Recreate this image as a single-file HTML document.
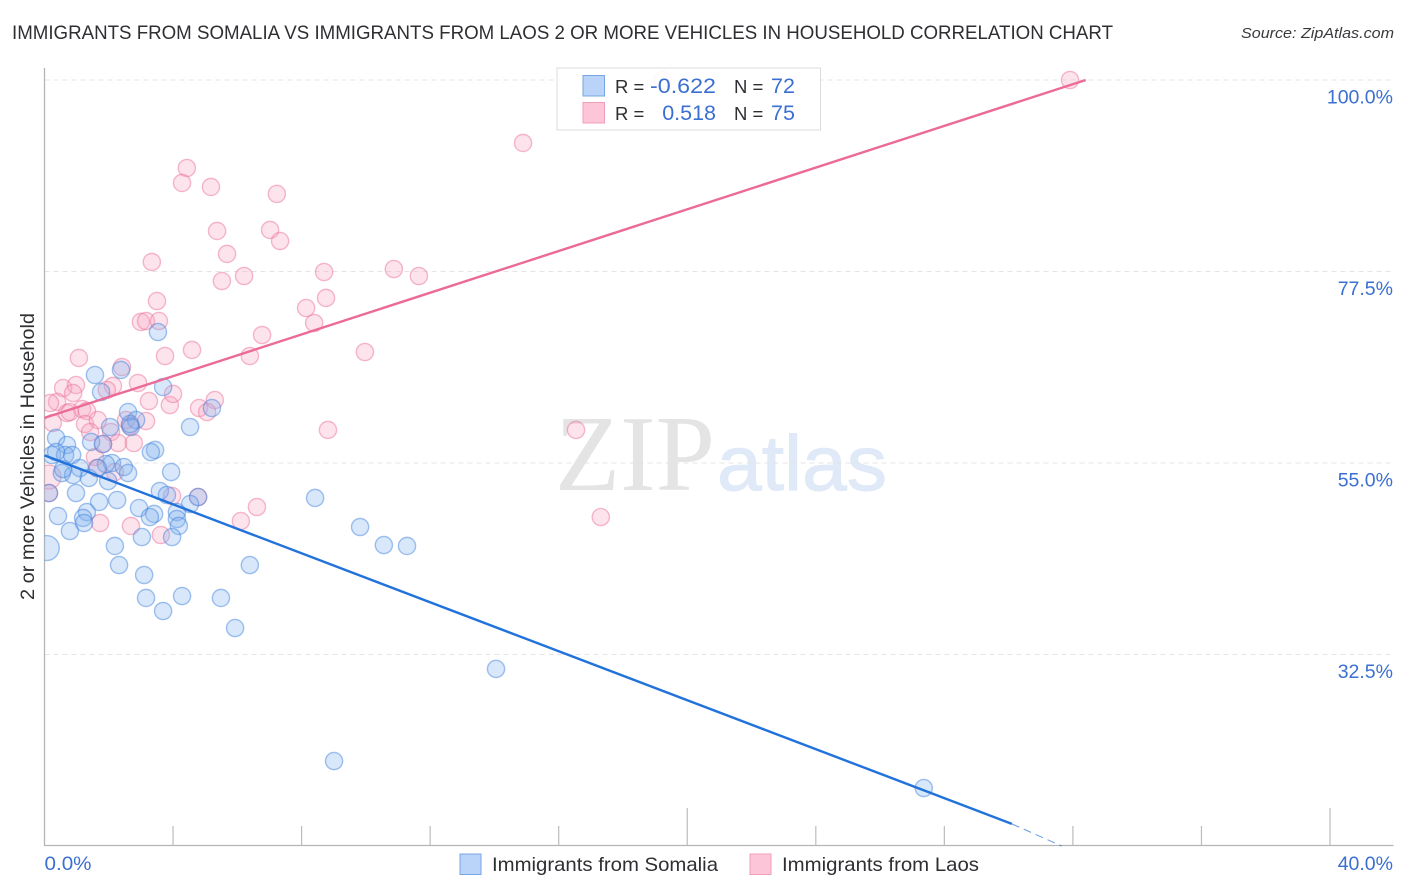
<!DOCTYPE html>
<html lang="en">
<head>
<meta charset="utf-8">
<title>Immigrants from Somalia vs Immigrants from Laos correlation chart</title>
<style>
html,body{margin:0;padding:0;background:#fff;}
svg{display:block;font-family:"Liberation Sans",sans-serif;}
</style>
</head>
<body>
<svg id="chart" xmlns="http://www.w3.org/2000/svg" width="1406" height="892" viewBox="0 0 1406 892">
  <defs><clipPath id="plot-clip"><rect x="44.5" y="60" width="1350" height="785.5"/></clipPath></defs>
  <text x="12" y="39" font-size="19.5" fill="#2f2f33" textLength="1101" lengthAdjust="spacingAndGlyphs">IMMIGRANTS FROM SOMALIA VS IMMIGRANTS FROM LAOS 2 OR MORE VEHICLES IN HOUSEHOLD CORRELATION CHART</text>
  <text x="1241" y="38" font-size="15" font-style="italic" fill="#3a3a3e" textLength="153" lengthAdjust="spacingAndGlyphs">Source: ZipAtlas.com</text>
  <g>
    <text x="555" y="490" font-family="'Liberation Serif',serif" font-size="108" fill="#e4e4e4" textLength="160" lengthAdjust="spacingAndGlyphs">ZIP</text>
    <text x="717" y="490" font-size="78" fill="#dfe9f7" stroke="#dfe9f7" stroke-width="1" textLength="170" lengthAdjust="spacingAndGlyphs">atlas</text>
  </g>
  <g id="grid"></g>
  <g id="axes"></g>
  <g id="marks" clip-path="url(#plot-clip)"></g>
  <g id="lines"></g>
  <g id="ylabels"></g>
  <text transform="translate(34 456.5) rotate(-90)" font-size="19.5" fill="#2f2f33" text-anchor="middle" textLength="287" lengthAdjust="spacingAndGlyphs">2 or more Vehicles in Household</text>
  <text x="44.5" y="870" font-size="19.5" fill="#3b6fd1" textLength="47" lengthAdjust="spacingAndGlyphs">0.0%</text>
  <text x="1393" y="870" font-size="19.5" fill="#3b6fd1" text-anchor="end">40.0%</text>

  <g>
    <rect x="557" y="68" width="263.5" height="62" fill="#fff" fill-opacity="0.9" stroke="#dcdcdc" stroke-width="1"/>
    <rect x="583" y="75.5" width="21.5" height="20.5" fill="#b9d4f8" stroke="#78a5e3" stroke-width="1"/>
    <rect x="583" y="102.5" width="21.5" height="20.5" fill="#fcc6d8" stroke="#f09db8" stroke-width="1"/>
    <g font-size="20">
      <text x="615" y="93" fill="#2f2f33" font-size="18.5">R =</text>
      <text x="650" y="93" fill="#3b6fd1" font-size="21.5" textLength="66" lengthAdjust="spacingAndGlyphs">-0.622</text>
      <text x="734" y="93" fill="#2f2f33" font-size="18.5">N =</text>
      <text x="771" y="93" fill="#3b6fd1" font-size="21.5">72</text>
      <text x="615" y="120" fill="#2f2f33" font-size="18.5">R =</text>
      <text x="716" y="120" fill="#3b6fd1" text-anchor="end" font-size="21.5">0.518</text>
      <text x="734" y="120" fill="#2f2f33" font-size="18.5">N =</text>
      <text x="771" y="120" fill="#3b6fd1" font-size="21.5">75</text>
    </g>
  </g>

  <g>
    <rect x="460" y="854" width="21" height="20.5" fill="#b9d4f8" stroke="#78a5e3" stroke-width="1"/>
    <text x="492" y="871" font-size="19.5" fill="#2f2f33" textLength="226" lengthAdjust="spacingAndGlyphs">Immigrants from Somalia</text>
    <rect x="750" y="854" width="21" height="20.5" fill="#fcc6d8" stroke="#f09db8" stroke-width="1"/>
    <text x="782" y="871" font-size="19.5" fill="#2f2f33" textLength="197" lengthAdjust="spacingAndGlyphs">Immigrants from Laos</text>
  </g>
</svg>
<script>
const yTickValues = [100, 77.5, 55, 32.5];
const yTickLabels = ["100.0%", "77.5%", "55.0%", "32.5%"];
const xTickValues = [4, 8, 12, 16, 20, 24, 28, 32, 36, 40];
const xMajorTicks = [20, 40];

const somaliaX = [1.57,2.38,1.76,3.69,2.60,2.85,2.04,2.69,4.53,5.21,0.36,0.70,1.45,1.82,0.23,0.64,0.86,3.44,3.31,0.54,1.10,0.89,1.38,2.10,1.91,2.47,2.60,1.98,3.94,0.14,0.98,3.59,3.81,4.78,4.53,1.70,2.26,0.42,1.32,1.20,1.23,0.79,2.94,3.41,3.28,3.03,4.12,4.12,4.18,3.97,2.19,2.32,3.10,3.16,4.28,5.49,3.69,5.93,6.39,8.42,9.82,10.56,11.28,14.05,9.01,27.36,3.53,2.66,0.36,1.66,0.58];
const somaliaY = [65.34,65.93,63.34,63.93,60.99,60.05,59.23,59.23,59.23,61.46,57.94,57.11,57.47,57.23,55.94,55.94,55.94,56.53,56.29,53.82,54.41,53.59,53.24,55.00,54.88,54.53,53.82,52.88,53.94,51.47,51.47,51.71,51.24,51.00,50.18,50.42,50.65,48.77,49.24,48.54,47.95,47.01,49.71,49.01,48.65,46.30,49.24,48.42,47.60,46.30,45.25,43.01,41.84,39.14,39.37,39.14,37.61,35.61,43.01,50.89,47.48,45.36,45.25,30.80,19.98,16.81,70.39,59.58,56.29,54.41,54.29];
const somaliaLargeX = [0.07];
const somaliaLargeY = [45.01];

const laosX = [4.43,4.28,5.18,7.23,5.37,7.02,7.33,5.68,3.34,6.21,5.52,8.70,10.87,11.65,8.76,8.14,8.39,3.50,3.00,3.16,3.56,6.77,6.39,4.59,3.75,9.97,31.91,14.89,19.24,16.54,17.31,8.82,1.07,2.41,0.58,0.98,0.89,2.13,1.94,2.91,3.25,3.90,4.00,4.81,5.30,5.06,0.39,0.17,0.70,1.17,1.32,1.26,1.66,1.42,0.26,3.16,2.54,2.07,2.29,2.78,1.57,1.63,2.19,3.97,4.78,6.61,1.73,2.69,3.62,6.11,0.79,2.66,1.82,0.14];
const laosY = [89.66,87.90,87.43,86.61,82.26,82.38,81.08,79.56,78.62,76.97,76.38,77.44,77.79,76.97,74.39,73.21,71.45,74.03,71.57,71.68,71.68,70.04,67.57,68.28,67.57,68.04,100,92.60,100,58.88,48.65,58.88,67.34,66.28,63.81,64.16,63.22,64.05,63.58,64.40,62.28,61.81,63.11,61.46,62.40,60.99,62.17,62.05,60.87,61.34,61.11,59.58,60.05,58.64,59.70,59.93,60.05,58.64,57.35,57.35,55.70,54.41,53.94,51.12,51.00,49.83,47.95,47.60,46.54,48.18,60.99,59.35,57.23,51.47];
const laosLargeX = [0.14];
const laosLargeY = [53.35];

const somaliaTrendX = [0, 30.1, 31.65];
const somaliaTrendY = [55.9, 12.6, 10.0];
const laosTrendX = [0, 32.4];
const laosTrendY = [60.3, 100];

const NS = "http://www.w3.org/2000/svg";
const sx = v => 44.5 + v * 32.1375;
const sy = v => 80 + (100 - v) * 8.511;
function make(tag, attrs, parent) {
  const el = document.createElementNS(NS, tag);
  for (const k in attrs) el.setAttribute(k, attrs[k]);
  parent.appendChild(el);
  return el;
}
const grid = document.getElementById("grid");
const axes = document.getElementById("axes");
const marks = document.getElementById("marks");
const lines = document.getElementById("lines");
const ylabels = document.getElementById("ylabels");

yTickValues.forEach((v, i) => {
  const g = make("line", {x1: 44.5, x2: 1393, y1: sy(v), y2: sy(v), stroke: "#e4e4e4", "stroke-width": 1, "stroke-dasharray": "5 4"}, grid);
  
  
  const t = make("text", {x: 1393, y: sy(v) + 23.5, "font-size": 19.5, fill: "#3b6fd1", "text-anchor": "end"}, ylabels);
  t.textContent = yTickLabels[i];
  
  
});

const yAxis = make("line", {x1: 44.5, x2: 44.5, y1: 68, y2: 846, stroke: "#b5b5b5", "stroke-width": 1.3}, axes);


const xAxis = make("line", {x1: 44, x2: 1393.5, y1: 845.5, y2: 845.5, stroke: "#b5b5b5", "stroke-width": 1.3}, axes);


xTickValues.forEach(v => {
  const top = xMajorTicks.includes(v) ? 808 : 826;
  const tick = make("line", {x1: sx(v), x2: sx(v), y1: top, y2: 845.5, stroke: "#bcbcbc", "stroke-width": 1.2}, axes);
  
  
});

function drawSeries(xs, ys, r, fill, stroke, name) {
  xs.forEach((x, i) => {
    const c = make("circle", {cx: sx(x), cy: sy(ys[i]), r: r, fill: fill, "fill-opacity": 0.3, stroke: stroke, "stroke-opacity": 0.48, "stroke-width": 1.4}, marks);
    
    
  });
}
const PINK_FILL = "#f7a6c0", PINK_STROKE = "#ea6f98", BLUE_FILL = "#7fb0f0", BLUE_STROKE = "#3f82dc";
drawSeries(laosLargeX, laosLargeY, 12, PINK_FILL, PINK_STROKE, 'laos-point');
drawSeries(laosX, laosY, 8.6, PINK_FILL, PINK_STROKE, 'laos-point');
drawSeries(somaliaLargeX, somaliaLargeY, 12.5, BLUE_FILL, BLUE_STROKE, 'somalia-point');
drawSeries(somaliaX, somaliaY, 8.6, BLUE_FILL, BLUE_STROKE, 'somalia-point');

const sSolid = make("line", {x1: sx(somaliaTrendX[0]), y1: sy(somaliaTrendY[0]), x2: sx(somaliaTrendX[1]), y2: sy(somaliaTrendY[1]), stroke: "#2272dc", "stroke-width": 2.4}, lines);


const sDash = make("line", {x1: sx(somaliaTrendX[1]), y1: sy(somaliaTrendY[1]), x2: sx(somaliaTrendX[2]), y2: sy(somaliaTrendY[2]), stroke: "#2272dc", "stroke-width": 1, "stroke-dasharray": "8 5", "stroke-opacity": 0.7}, lines);


const pSolid = make("line", {x1: sx(laosTrendX[0]), y1: sy(laosTrendY[0]), x2: sx(laosTrendX[1]), y2: sy(laosTrendY[1]), stroke: "#ec6a97", "stroke-width": 2.4}, lines);


</script>
</body>
</html>
